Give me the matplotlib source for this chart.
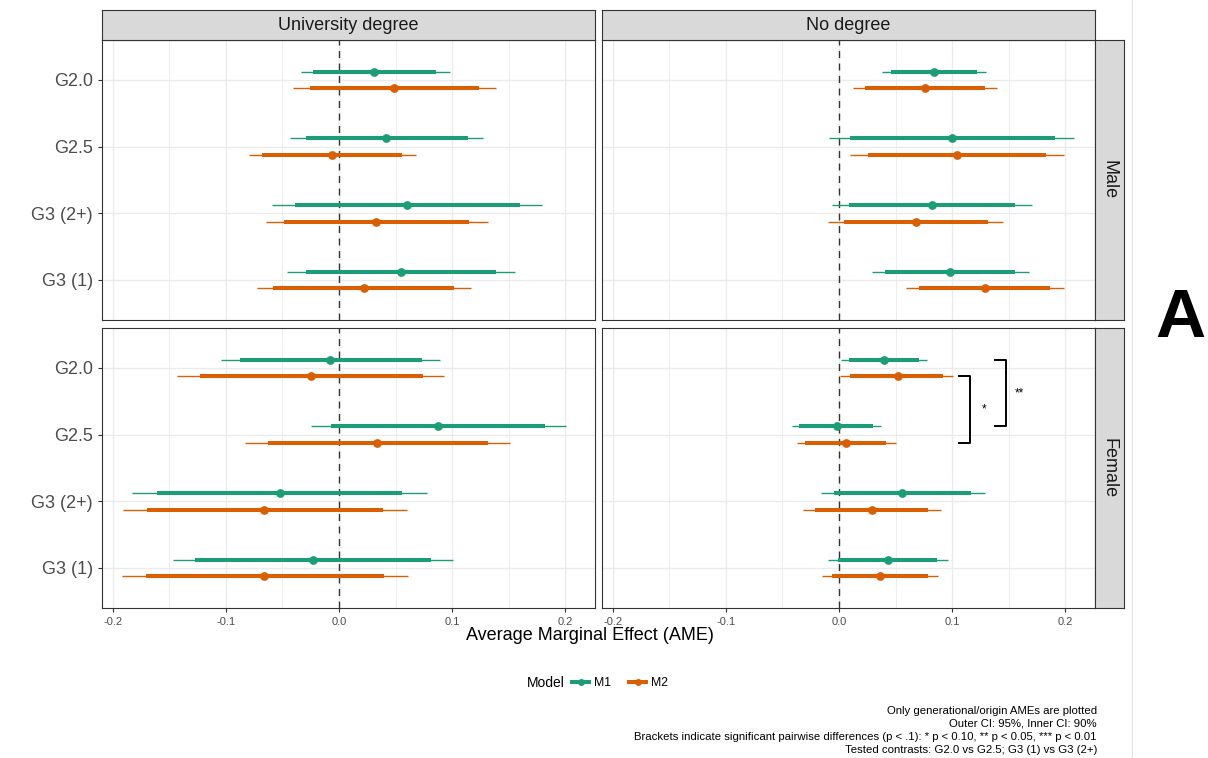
"""
    AME forest plot by degree / sex, M1 vs M2
"""

import numpy as np
import matplotlib
matplotlib.use('Agg')
import matplotlib.pyplot as plt
from matplotlib.lines import Line2D

plt.rcParams['font.family'] = ['Liberation Sans', 'DejaVu Sans']

categories = ['G2.0', 'G2.5', 'G3 (2+)', 'G3 (1)']
degrees = ['University degree', 'No degree']
sexes = ['Male', 'Female']
models = ['M1', 'M2']

# rows: Male/University, Male/No degree, Female/University, Female/No degree
# columns follow categories
m1_est = [[0.031, 0.042, 0.060, 0.055],
          [0.084, 0.100, 0.082, 0.098],
          [-0.008, 0.088, -0.052, -0.023],
          [0.040, -0.002, 0.056, 0.043]]
m1_lo95 = [[-0.034, -0.043, -0.059, -0.046],
           [0.038, -0.009, -0.006, 0.029],
           [-0.104, -0.025, -0.183, -0.147],
           [0.002, -0.042, -0.016, -0.010]]
m1_hi95 = [[0.098, 0.127, 0.180, 0.156],
           [0.130, 0.208, 0.171, 0.168],
           [0.089, 0.201, 0.078, 0.101],
           [0.078, 0.037, 0.129, 0.096]]
m1_lo90 = [[-0.023, -0.029, -0.039, -0.029],
           [0.046, 0.010, 0.009, 0.041],
           [-0.088, -0.007, -0.161, -0.127],
           [0.009, -0.035, -0.004, -0.001]]
m1_hi90 = [[0.086, 0.114, 0.160, 0.139],
           [0.122, 0.191, 0.156, 0.156],
           [0.073, 0.182, 0.056, 0.081],
           [0.071, 0.030, 0.117, 0.087]]

m2_est = [[0.049, -0.006, 0.033, 0.022],
          [0.076, 0.104, 0.068, 0.129],
          [-0.025, 0.034, -0.066, -0.066],
          [0.052, 0.006, 0.029, 0.036]]
m2_lo95 = [[-0.041, -0.080, -0.065, -0.073],
           [0.012, 0.010, -0.010, 0.059],
           [-0.143, -0.083, -0.191, -0.192],
           [0.001, -0.037, -0.032, -0.015]]
m2_hi95 = [[0.139, 0.068, 0.132, 0.117],
           [0.140, 0.199, 0.145, 0.199],
           [0.093, 0.151, 0.060, 0.061],
           [0.101, 0.050, 0.090, 0.088]]
m2_lo90 = [[-0.026, -0.068, -0.049, -0.058],
           [0.023, 0.026, 0.004, 0.071],
           [-0.123, -0.063, -0.170, -0.171],
           [0.010, -0.030, -0.021, -0.006]]
m2_hi90 = [[0.124, 0.056, 0.115, 0.102],
           [0.129, 0.183, 0.132, 0.187],
           [0.074, 0.132, 0.039, 0.040],
           [0.092, 0.042, 0.079, 0.079]]

# significant pairwise differences: (panel row, model, cat a, cat b, label)
brackets = [(3, 'M2', 0, 1, '*'),
            (3, 'M1', 0, 1, '**')]

caption = ['Only generational/origin AMEs are plotted',
           'Outer CI: 95%, Inner CI: 90%',
           'Brackets indicate significant pairwise differences (p < .1): * p < 0.10, ** p < 0.05, *** p < 0.01',
           'Tested contrasts: G2.0 vs G2.5; G3 (1) vs G3 (2+)']

colors = {'M1': '#1b9e77', 'M2': '#d95f02'}
dodge = {'M1': -0.125, 'M2': 0.125}
bracket_x = {'M2': 0.106, 'M1': 0.138}

W, H = 1208, 758


def box(x0, y0, x1, y1):
    return [x0 / W, 1 - y1 / H, (x1 - x0) / W, (y1 - y0) / H]


def main():
    data = {'M1': (m1_est, m1_lo95, m1_hi95, m1_lo90, m1_hi90),
            'M2': (m2_est, m2_lo95, m2_hi95, m2_lo90, m2_hi90)}

    fig = plt.figure(figsize=(W / 100, H / 100), dpi=100)
    panel_x = [(102, 595), (602, 1095)]
    panel_y = [(40, 320), (328, 608)]
    ypos = np.arange(len(categories))

    axes = {}
    for i, sex in enumerate(sexes):
        for j, deg in enumerate(degrees):
            r = i * 2 + j
            x0, x1 = panel_x[j]
            y0, y1 = panel_y[i]
            ax = fig.add_axes(box(x0, y0, x1, y1))
            axes[r] = ax

            ax.set_axisbelow(True)
            ax.set_xlim(-0.2097, 0.2265)
            ax.set_ylim(len(categories) - 0.4, -0.6)
            ax.set_xticks([-0.2, -0.1, 0.0, 0.1, 0.2])
            ax.set_xticks([-0.15, -0.05, 0.05, 0.15], minor=True)
            ax.set_yticks(ypos)
            ax.grid(which='major', color='#EBEBEB', lw=1.0)
            ax.grid(which='minor', axis='x', color='#EBEBEB', lw=0.6)
            ax.axvline(0, color='#333333', lw=1.0, ls=(0, (5, 4)), zorder=1)

            for m in models:
                est, lo95, hi95, lo90, hi90 = [np.array(a[r]) for a in data[m]]
                y = ypos + dodge[m]
                ax.hlines(y, lo95, hi95, color=colors[m], lw=1.0, capstyle='butt', zorder=2)
                ax.hlines(y, lo90, hi90, color=colors[m], lw=2.9, capstyle='butt', zorder=3)
                ax.plot(est, y, 'o', color=colors[m], ms=6.3, mec='none', zorder=4)

            for s in ax.spines.values():
                s.set_color('#333333')
                s.set_linewidth(0.8)
            ax.tick_params(which='both', color='#333333', labelcolor='#4D4D4D', length=3)
            ax.tick_params(which='minor', length=0)
            if j == 0:
                ax.set_yticklabels(categories, fontsize=13)
            else:
                ax.tick_params(axis='y', length=0, labelleft=False)
            if i == 0:
                ax.tick_params(axis='x', length=0, labelbottom=False)
            else:
                ax.set_xticklabels(['-0.2', '-0.1', '0.0', '0.1', '0.2'], fontsize=8)

            # facet strips
            if i == 0:
                st = fig.add_axes(box(x0, 9.5, x1, y0))
                st.set_facecolor('#D9D9D9')
                st.set_xticks([])
                st.set_yticks([])
                for s in st.spines.values():
                    s.set_color('#333333')
                    s.set_linewidth(0.8)
                st.text(0.5, 0.47, deg, ha='center', va='center', fontsize=13,
                        color='#1A1A1A', transform=st.transAxes)
            if j == 1:
                st = fig.add_axes(box(x1, y0, 1124, y1))
                st.set_facecolor('#D9D9D9')
                st.set_xticks([])
                st.set_yticks([])
                for s in st.spines.values():
                    s.set_color('#333333')
                    s.set_linewidth(0.8)
                st.text(0.5, 0.5, sex, ha='center', va='center', fontsize=13,
                        rotation=-90, color='#1A1A1A', transform=st.transAxes)

    # brackets
    for r, m, a, b, lab in brackets:
        ax = axes[r]
        ya = ypos[a] + dodge[m]
        yb = ypos[b] + dodge[m]
        xb = bracket_x[m]
        ax.plot([xb, xb + 0.01, xb + 0.01, xb], [ya, ya, yb, yb],
                color='black', lw=1.4, zorder=5)
        ax.text(xb + 0.022, (ya + yb) / 2, lab, ha='center', va='center', fontsize=8.5)

    fig.text(590 / W, 1 - 636 / H, 'Average Marginal Effect (AME)', ha='center',
             va='center', fontsize=13)

    # legend
    fig.text(527 / W, 1 - 683 / H, 'Model', ha='left', va='center', fontsize=10)
    handles = [Line2D([], [], color=colors[m], lw=2.9, marker='o', ms=5, mec='none')
               for m in models]
    fig.legend(handles, models, loc='center left', bbox_to_anchor=(572 / W, 1 - 683 / H),
               ncol=2, frameon=False, fontsize=8.8, handlelength=1.4, handletextpad=0.4,
               columnspacing=1.5, borderaxespad=0, borderpad=0)

    for k, line in enumerate(caption):
        fig.text(1097 / W, 1 - (711 + 13 * k) / H, line, ha='right', va='center', fontsize=8.2)

    fig.text(1180 / W, 1 - 337 / H, 'A', ha='center', va='baseline', fontsize=50,
             fontweight='bold')
    fig.add_artist(Line2D([1132 / W, 1132 / W], [0, 1], color='#E3E3E3', lw=0.8))

    fig.savefig('out.png', dpi=100)


if __name__ == "__main__":
    main()
